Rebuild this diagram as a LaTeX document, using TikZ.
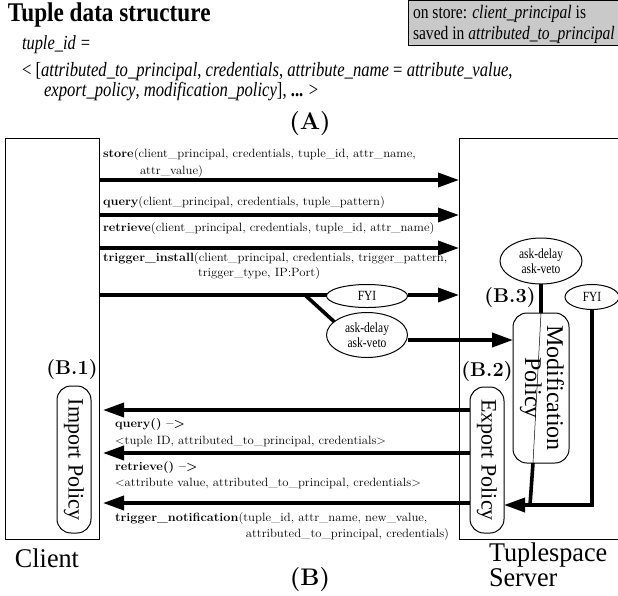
\documentclass[tikz,border=0pt]{standalone}
\usepackage{fontspec}
\usetikzlibrary{arrows.meta,shapes.geometric,calc}
\newfontfamily\cond[FakeStretch=0.82]{Liberation Serif}
\newfontfamily\titlefont[FakeStretch=0.86]{Liberation Serif}
\newfontfamily\bottomfont[FakeStretch=0.97]{Liberation Serif}
\newfontfamily\polfont{Liberation Serif}
\newfontfamily\lblfont[FakeStretch=1.06]{Latin Modern Roman}
\begin{document}
\begin{tikzpicture}[x=1pt,y=-1pt,
  every node/.style={inner sep=0pt,outer sep=0pt},
  arr/.style={line width=3.6pt,-{Triangle[length=21pt,width=14pt]}},
  conn/.style={line width=3.6pt},
  lbl/.style={anchor=west,font=\lblfont\fontsize{12}{13}\selectfont},
  ell/.style={ellipse,draw,line width=1pt,font=\cond\fontsize{14}{15}\selectfont,align=center},
  pol/.style={draw,line width=1pt,rounded corners=14pt,align=center},
  tag/.style={font=\bfseries\fontsize{20}{21}\selectfont},
  bigtag/.style={font=\bfseries\fontsize{24}{25}\selectfont},
  box/.style={draw,line width=1pt,anchor=north west}
]
\useasboundingbox (0,0) rectangle (618,595);

% header
\node[anchor=west,font=\titlefont\bfseries\fontsize{27}{28}\selectfont] (title) at (8,15) {Tuple data structure};
\node[anchor=west,font=\cond\fontsize{20}{22}\selectfont] (tid) at (22,45) {\itshape tuple\_id =};
\node[anchor=west,font=\cond\fontsize{20.3}{22}\selectfont] (tl1) at (22,72) {< [\textit{attributed\_to\_principal}, \textit{credentials}, \textit{attribute\_name} = \textit{attribute\_value},};
\node[anchor=west,font=\cond\fontsize{20.3}{22}\selectfont] (tl2) at (44,92) {\textit{export\_policy}, \textit{modification\_policy}], \textbf{...} >};
\node[draw,line width=1pt,fill=gray!42,anchor=north west,minimum width=214,minimum height=45] (note) at (408,0) {};
\node[anchor=west,font=\cond\fontsize{19}{20}\selectfont] (nt1) at (413,14) {on store: \textit{client\_principal} is};
\node[anchor=west,font=\cond\fontsize{19}{20}\selectfont] (nt2) at (413,35) {saved in \textit{attributed\_to\_principal}};
\node[bigtag] (A) at (310,124) {(A)};

% boxes
\node[box,minimum width=94,minimum height=401] (client) at (5,138) {};
\node[box,minimum width=170,minimum height=401] (server) at (459,138) {};

% coordinates for rows
\coordinate (r1) at (0,180);
\coordinate (r2) at (0,215);
\coordinate (r3) at (0,248);
\coordinate (r4) at (0,295);
\coordinate (r5) at (0,340);
\coordinate (l1) at (0,410);
\coordinate (l2) at (0,453);
\coordinate (l3) at (0,503);
\coordinate (rn) at (0,505);

% labels of outgoing calls
\node[lbl] (s1) at (103,155) {\textbf{store}(client\_principal, credentials, tuple\_id, attr\_name,};
\node[lbl] (s2) at (140,172) {attr\_value)};
\node[lbl] (q1) at (103,202) {\textbf{query}(client\_principal, credentials, tuple\_pattern)};
\node[lbl] (t1) at (103,228) {\textbf{retrieve}(client\_principal, credentials, tuple\_id, attr\_name)};
\node[lbl] (i1) at (103,258) {\textbf{trigger\_install}(client\_principal, credentials, trigger\_pattern,};
\node[lbl] (i2) at (198,273) {trigger\_type, IP:Port)};

\draw[arr] (client.east|-r1) -- (server.west|-r1);
\draw[arr] (client.east|-r2) -- (server.west|-r2);
\draw[arr] (client.east|-r3) -- (server.west|-r3);

% trigger install
\node[ell,minimum width=81,minimum height=23] (fyiL) at (367,296) {FYI};
\node[ell,minimum width=81,minimum height=45] (askL) at (367,335) {ask-delay\\ask-veto};
\coordinate (br) at (305,295);
\draw[conn] (client.east|-r4) -- (fyiL.west|-r4);
\draw[arr] (fyiL.east|-r4) -- (server.west|-r4);
\draw[conn] (br) -- (askL.158);

% server side policies
\node[pol,minimum width=56,minimum height=150,font=\polfont\fontsize{24}{24}\selectfont] (mod) at (541,388) {\rotatebox{-90}{\begin{tabular}{@{}c@{}}Modification\\[-2pt]Policy\end{tabular}}};
\node[pol,minimum width=34,minimum height=146,font=\polfont\fontsize{22}{22}\selectfont] (exp) at (487,460) {\rotatebox{-90}{Export Policy}};
\node[ell,minimum width=82,minimum height=46] (askR) at (541,261) {ask-delay\\ask-veto};
\node[ell,minimum width=54,minimum height=25] (fyiR) at (592,297) {FYI};
\draw[arr] (askL.east|-r5) -- (mod.west|-r5);
\draw[conn] (askR.south) -- (mod.north);
\coordinate (mb) at (533,463);
\draw[line width=0.5pt] (mod.north) -- (mb);
\draw[conn] (mb) -- (530,505);
\draw[arr] (fyiR.south) |- (exp.east|-rn);

\node[tag] (B3) at (510,298) {(B.3)};
\node[tag] (B2) at (487,372) {(B.2)};

% client side
\node[pol,minimum width=34,minimum height=147,font=\polfont\fontsize{22}{22}\selectfont] (imp) at (74,459.5) {\rotatebox{-90}{Import Policy}};
\node[tag] (B1) at (72,370) {(B.1)};

% return arrows
\draw[arr,shorten >=4pt] (exp.west|-l1) -- (client.east|-l1);
\draw[arr,shorten >=4pt] (exp.west|-l2) -- (client.east|-l2);
\draw[arr,shorten >=4pt] (exp.west|-l3) -- (client.east|-l3);

\node[lbl] (a1) at (115,424) {\textbf{query() \textendash>}};
\node[lbl] (a2) at (115,441) {<tuple ID, attributed\_to\_principal, credentials>};
\node[lbl] (b1) at (115,467) {\textbf{retrieve() \textendash>}};
\node[lbl] (b2) at (115,483) {<attribute value, attributed\_to\_principal, credentials>};
\node[lbl] (c1) at (115,518) {\textbf{trigger\_notification}(tuple\_id, attr\_name, new\_value,};
\node[lbl,anchor=east] (c2) at (449,534) {attributed\_to\_principal, credentials)};

% bottom labels
\node[font=\bottomfont\fontsize{27}{25}\selectfont] (cl) at (47,558) {Client};
\node[anchor=north west,align=left,font=\bottomfont\fontsize{27}{25}\selectfont] (sv) at (489,543) {Tuplespace\\Server};
\node[bigtag] (B) at (310,580) {(B)};
\end{tikzpicture}
\end{document}
